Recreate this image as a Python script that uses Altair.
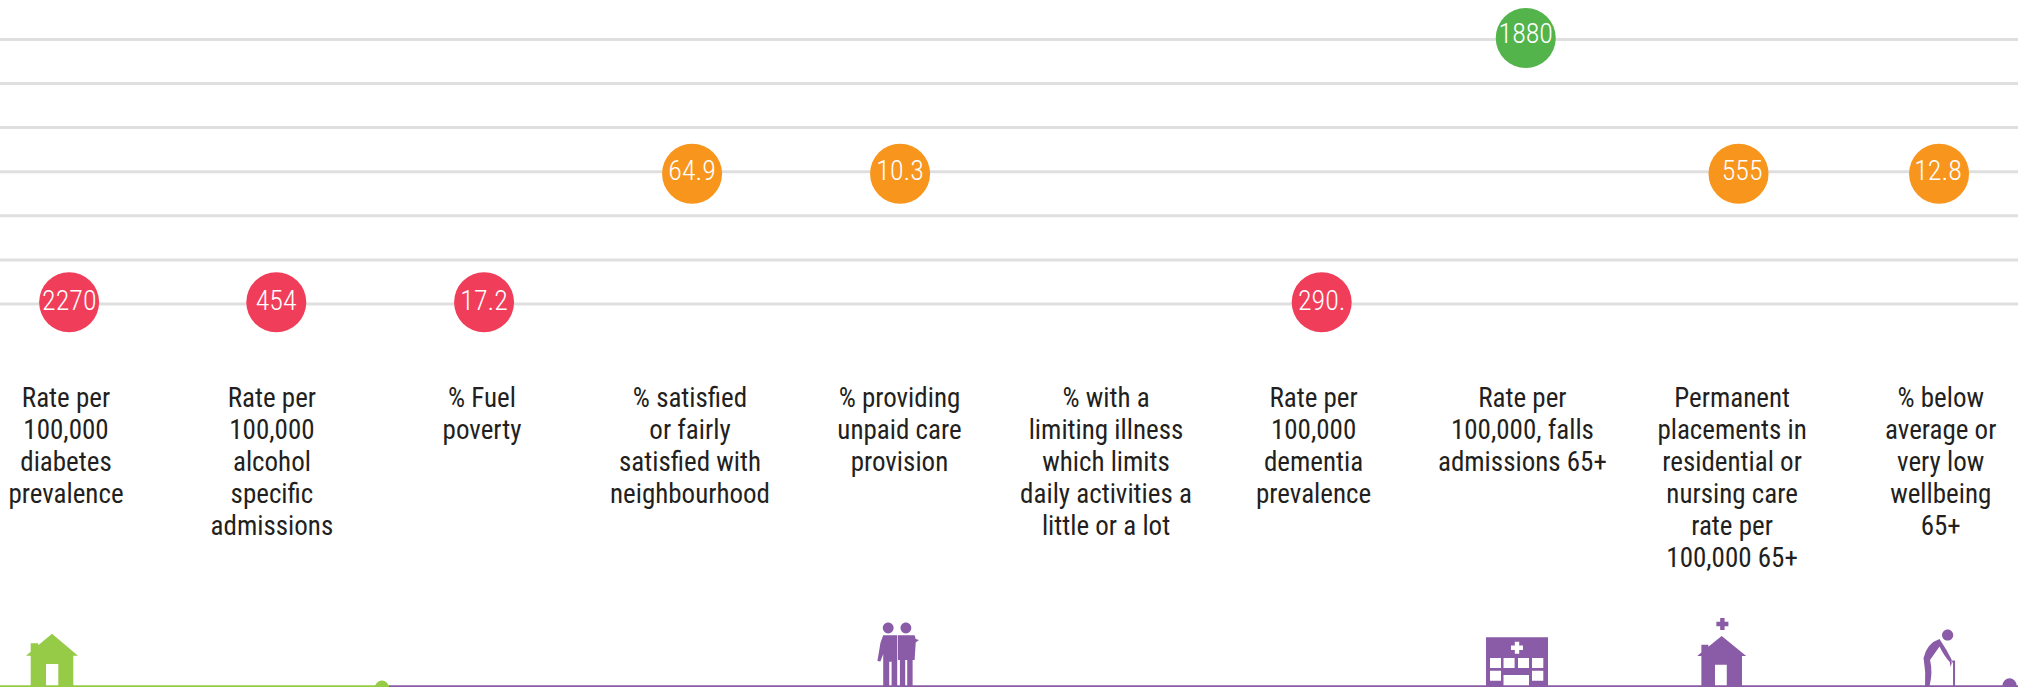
import altair as alt
import pandas as pd

# Indicator rows, in reading order across the strip
indicator_labels = [
    "Rate per\n100,000\ndiabetes\nprevalence",
    "Rate per\n100,000\n alcohol\nspecific\nadmissions",
    "% Fuel\npoverty",
    "% satisfied\nor fairly\nsatisfied with\nneighbourhood",
    "% providing\nunpaid care\nprovision",
    "% with a\nlimiting illness\nwhich limits\ndaily activities a\nlittle or a lot",
    "Rate per\n100,000\ndementia\nprevalence",
    "Rate per\n100,000, falls\nadmissions 65+",
    "Permanent\nplacements in\nresidential or\nnursing care\nrate per\n100,000 65+",
    "% below\naverage or\nvery low\nwellbeing\n65+",
]
label_columns = [0, 0.99, 2.0, 3.0, 4.007, 5.0, 5.998, 7.002, 8.01, 9.013]

# Scored indicators: column, band, printed value
value_text = ["2270", "454", "17.2", "64.9", "10.3", "290.", "1880", "555", "12.8"]
value_columns = [0.015, 1.011, 2.01, 3.01, 4.01, 6.037, 7.018, 8.041, 9.005]
value_text_columns = [0.016, 1.01, 2.01, 3.01, 4.01, 6.037, 7.018, 8.058, 9.0]
value_bands = [1.039, 1.039, 1.039, 3.955, 3.955, 1.039, 7.032, 3.955, 3.955]
value_text_bands = [1.05, 1.05, 1.05, 3.99, 3.99, 1.04, 7.1, 3.99, 3.99]
value_colors = ["#f03e5a", "#f03e5a", "#f03e5a", "#f8951d", "#f8951d", "#f03e5a",
                "#52b44a", "#f8951d", "#f8951d"]

bands = [1, 2, 3, 4, 5, 6, 7]
LABEL_LEVEL = -1.329
FLOOR_LEVEL = -7.665
ICON_LEVEL = -6.755

LIME = "#95cb47"
PURPLE = "#8a5ba6"
INK = "#231f20"
NARROW = "Roboto Condensed"

x_scale = alt.Scale(domain=[-0.3173, 9.3846], range=[0, 2018], nice=False, zero=False)
y_scale = alt.Scale(domain=[-7.685, 7.893], range=[687, 0], nice=False, zero=False)
X = lambda field: alt.X(field, type="quantitative", scale=x_scale, axis=None)
Y = lambda field: alt.Y(field, type="quantitative", scale=y_scale, axis=None)


# Glyph helpers: outlines are authored in pixels around the symbol centre and
# normalised to the -1..1 box that custom symbol shapes use.
HALF = 40.0


def n(v):
    return f"{v / HALF:.4f}"


def poly(*pts):
    return "M" + "L".join(f"{n(a)} {n(b)}" for a, b in pts) + "Z"


def box(x0, y0, x1, y1, hole=False):
    pts = [(x0, y0), (x1, y0), (x1, y1), (x0, y1)]
    return poly(*(reversed(pts) if hole else pts))


def disc(cx, cy, r):
    return (f"M{n(cx - r)} {n(cy)}A{n(r)} {n(r)} 0 1 0 {n(cx + r)} {n(cy)}"
            f"A{n(r)} {n(r)} 0 1 0 {n(cx - r)} {n(cy)}Z")


def cross(cx, cy, span, bar, hole=False):
    s, b = span / 2, bar / 2
    pts = [(cx - b, cy - s), (cx + b, cy - s), (cx + b, cy - b), (cx + s, cy - b),
           (cx + s, cy + b), (cx + b, cy + b), (cx + b, cy + s), (cx - b, cy + s),
           (cx - b, cy + b), (cx - s, cy + b), (cx - s, cy - b), (cx - b, cy - b)]
    return poly(*(reversed(pts) if hole else pts))


def house(half_roof, half_wall, apex, eave, door_l, door_r, door_top, chim_top, chim_r):
    slope = (eave - apex) / half_roof
    return poly(
        (0, apex), (half_roof, eave), (half_wall, eave), (half_wall, 40),
        (door_r, 40), (door_r, door_top), (door_l, door_top), (door_l, 40),
        (-half_wall, 40), (-half_wall, eave), (-half_roof, eave),
        (-half_wall, eave - (half_roof - half_wall) * slope),
        (-half_wall, chim_top), (chim_r, chim_top), (chim_r, apex - chim_r * slope),
    )


house_glyph = house(26, 21.3, -12.3, 9.7, -6, 6.3, 18, -2.7, -13.7)
care_home_glyph = house(24.5, 20.3, -10, 10, -6.7, 5.1, 18.7, -1.3, -13.3) + cross(0.7, -22, 12, 4.4)

carers_glyph = (
    disc(-12.7, -18, 5.4) + disc(5, -18, 5.4)
    + poly((-17.7, -10.7), (-3.7, -10.7), (-3.7, 40), (-9.3, 40), (-9.3, 15.7), (-11.7, 15.7),
           (-11.7, 40), (-17.7, 40), (-17.7, 8), (-20.5, 15.5), (-23.5, 15), (-20.5, -3))
    + poly((-3, -10.7), (13.7, -10.7), (14.8, -7), (18, -6), (14.8, -3.5), (13.7, 14),
           (11.7, 14), (11.7, 40), (6.3, 40), (6.3, 14), (4.3, 14), (4.3, 40), (-1, 40),
           (-1, 14), (-3, 14))
)

clinic_glyph = (
    box(-31, -8.7, 31, 40)
    + cross(0, 1.7, 12, 4.4, hole=True)
    + box(-27, 12, -16, 22, hole=True) + box(-13.5, 12, -2.4, 22, hole=True)
    + box(1, 12, 12, 22, hole=True) + box(15, 12, 26.3, 22, hole=True)
    + box(-27, 24.7, -16, 34.7, hole=True) + box(15, 24.7, 26.3, 34.7, hole=True)
    + box(-13.5, 29, 12, 40, hole=True)
)

# Stooped figure with a walking stick
elder_glyph = (
    disc(8.6, -11, 5.6)
    + f"M{n(0.5)} {n(-7)}Q{n(-12)} {n(-3)} {n(-15.5)} {n(12)}"
    + f"Q{n(-13)} {n(26)} {n(-14)} {n(40)}L{n(-9.5)} {n(40)}"
    + f"Q{n(-6)} {n(26)} {n(-9)} {n(14)}L{n(0.5)} {n(0.5)}"
    + f"Q{n(5)} {n(10)} {n(10.7)} {n(16)}L{n(11.5)} {n(21)}L{n(13.3)} {n(15)}"
    + f"Q{n(8)} {n(4)} {n(0.5)} {n(-7)}Z"
    + poly((12.5, 14.5), (16, 14.5), (16, 40), (14, 40), (14, 16.5), (12.5, 16.5))
)

icon_columns = [-0.0673, 4.014, 6.976, 7.96, 9.005]
icon_glyphs = [house_glyph, carers_glyph, clinic_glyph, care_home_glyph, elder_glyph]
icon_colors = [LIME, PURPLE, PURPLE, PURPLE, PURPLE]

# Background rules
grid = alt.Chart(pd.DataFrame({"band": bands})).mark_rule(color="#dfdfdf", strokeWidth=3).encode(
    y=Y("band")
)

# Floor line, lime on the left and purple across the rest
floor = pd.DataFrame({
    "start": [-0.3173, 1.553],
    "end": [1.553, 9.3846],
    "level": [FLOOR_LEVEL, FLOOR_LEVEL],
    "tone": [LIME, PURPLE],
})
floor_rules = alt.Chart(floor).mark_rule(strokeWidth=1.6).encode(
    x=X("start"), x2="end", y=Y("level"), color=alt.Color("tone:N", scale=None, legend=None)
)
ends = pd.DataFrame({"c": [1.519, 9.344], "level": [-7.70, -7.649], "tone": [LIME, PURPLE]})
end_dots = alt.Chart(ends).mark_circle(size=200, opacity=1).encode(
    x=X("c"), y=Y("level"), color=alt.Color("tone:N", scale=None, legend=None)
)

values = pd.DataFrame({
    "c": value_columns, "band": value_bands, "tc": value_text_columns,
    "tb": value_text_bands, "value": value_text, "tone": value_colors,
})
bubbles = alt.Chart(values).mark_circle(size=3600, opacity=1).encode(
    x=X("c"), y=Y("band"), color=alt.Color("tone:N", scale=None, legend=None)
)
bubble_text = alt.Chart(values).mark_text(
    font=NARROW, fontSize=28, fontWeight=300, color="white", align="center", baseline="middle"
).encode(x=X("tc"), y=Y("tb"), text="value:N")

labels = pd.DataFrame({
    "c": label_columns, "level": [LABEL_LEVEL] * len(label_columns), "label": indicator_labels,
})
label_text = alt.Chart(labels).mark_text(
    font=NARROW, fontSize=27, color=INK, align="center", baseline="alphabetic",
    lineBreak="\n", lineHeight=32,
).encode(x=X("c"), y=Y("level"), text="label:N")

icons = [
    alt.Chart(pd.DataFrame({"c": [c], "level": [ICON_LEVEL]})).mark_point(
        shape=glyph, size=6400, filled=True, fill=tone, stroke=None, opacity=1
    ).encode(x=X("c"), y=Y("level"))
    for c, glyph, tone in zip(icon_columns, icon_glyphs, icon_colors)
]

chart = alt.layer(
    grid, floor_rules, end_dots, bubbles, bubble_text, label_text, *icons
).properties(
    width=2018, height=687, padding=0,
    autosize=alt.AutoSizeParams(type="none", contains="padding"),
    background="white",
).configure_view(stroke=None)

chart.save("out.html", embed_options={"renderer": "svg", "actions": False})
